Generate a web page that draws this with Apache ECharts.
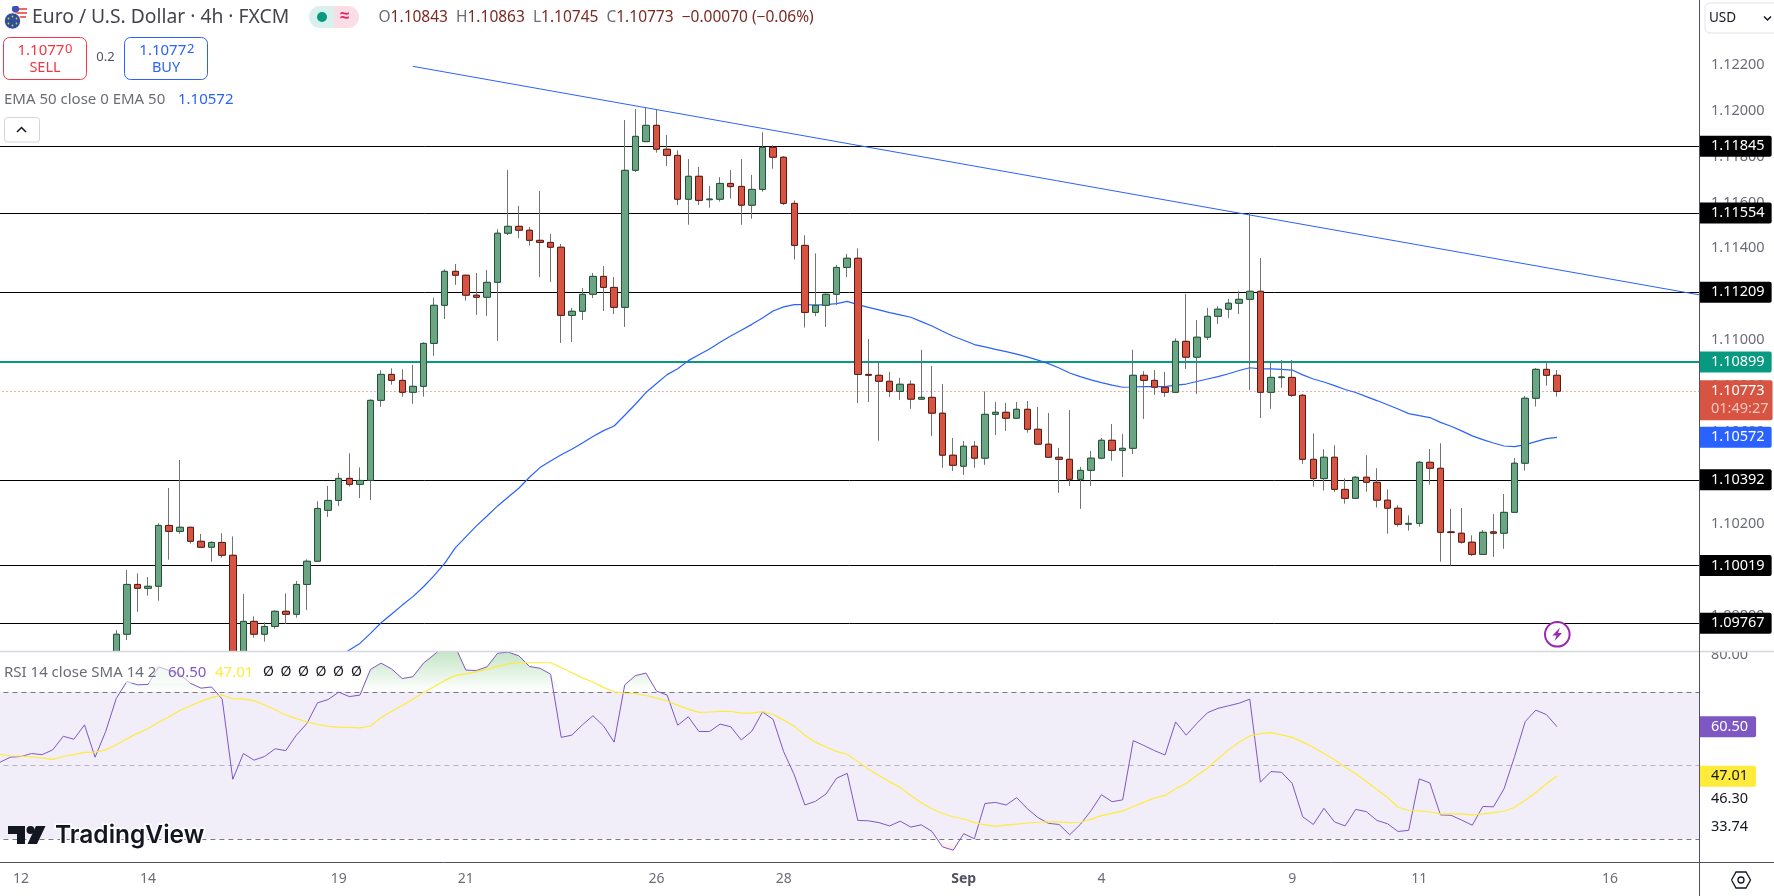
<!DOCTYPE html>
<html lang="en">
<head>
    <meta charset="UTF-8">
    <title>Euro / U.S. Dollar 4h</title>
    <style>
        html, body { margin: 0; padding: 0; background: #fff; }
        #main { width: 1774px; height: 896px; }
    </style>
</head>
<body>
<div id="main"></div>
<script src="https://cdn.jsdelivr.net/npm/echarts@6/dist/echarts.min.js"></script>
<script type="text/javascript">
    // time axis: 161 bar slots, date labels only on some of them
    var slotCount = 161;
    var tickSlots = [2, 14, 32, 44, 62, 74, 91, 104, 122, 134, 152];
    var tickLabels = ['12', '14', '19', '21', '26', '28', 'Sep', '4', '9', '11', '16'];

    // first 11 bars sit below the visible price range
    var firstCandle = 11;
    var opens = [1.09592,1.09719,1.09936,1.09919,1.09928,1.10193,1.10167,1.10185,1.10124,1.10098,1.10119,1.10063,1.09500,1.09775,1.09719,1.09753,1.09819,1.09806,1.09936,1.10037,1.10259,1.10302,1.10398,1.10372,1.10389,1.10738,1.10851,1.10825,1.10773,1.10799,1.10986,1.11152,1.11300,1.11283,1.11196,1.11187,1.11252,1.11466,1.11496,1.11479,1.11435,1.11426,1.11405,1.11108,1.11126,1.11200,1.11278,1.11230,1.11143,1.11740,1.11865,1.11936,1.11832,1.11805,1.11614,1.11714,1.11612,1.11614,1.11683,1.11670,1.11588,1.11657,1.11840,1.11797,1.11596,1.11413,1.11121,1.11152,1.11200,1.11317,1.11357,1.10851,1.10847,1.10821,1.10777,1.10808,1.10743,1.10751,1.10682,1.10499,1.10451,1.10538,1.10486,1.10677,1.10686,1.10660,1.10699,1.10612,1.10547,1.10490,1.10481,1.10394,1.10433,1.10486,1.10564,1.10520,1.10529,1.10847,1.10825,1.10795,1.10773,1.10995,1.10926,1.11013,1.11104,1.11135,1.11161,1.11178,1.11213,1.10773,1.10837,1.10838,1.10760,1.10481,1.10397,1.10490,1.10350,1.10311,1.10403,1.10381,1.10303,1.10268,1.10198,1.10202,1.10468,1.10442,1.10165,1.10159,1.10120,1.10067,1.10165,1.10159,1.10250,1.10464,1.10747,1.10873,1.10847];
    var closes = [1.09719,1.09936,1.09919,1.09928,1.10193,1.10167,1.10185,1.10124,1.10098,1.10119,1.10063,1.09491,1.09775,1.09719,1.09753,1.09819,1.09806,1.09936,1.10037,1.10267,1.10302,1.10398,1.10372,1.10389,1.10738,1.10851,1.10825,1.10773,1.10799,1.10986,1.11152,1.11300,1.11283,1.11196,1.11187,1.11252,1.11466,1.11496,1.11479,1.11435,1.11426,1.11405,1.11108,1.11126,1.11200,1.11278,1.11230,1.11143,1.11740,1.11888,1.11936,1.11832,1.11805,1.11614,1.11714,1.11609,1.11615,1.11683,1.11669,1.11588,1.11657,1.11840,1.11797,1.11596,1.11413,1.11121,1.11152,1.11200,1.11317,1.11357,1.10851,1.10847,1.10821,1.10777,1.10808,1.10743,1.10751,1.10682,1.10499,1.10455,1.10538,1.10486,1.10677,1.10686,1.10660,1.10699,1.10612,1.10547,1.10490,1.10481,1.10394,1.10433,1.10486,1.10564,1.10520,1.10529,1.10847,1.10825,1.10795,1.10773,1.10995,1.10926,1.11013,1.11104,1.11135,1.11161,1.11178,1.11213,1.10773,1.10838,1.10840,1.10760,1.10481,1.10397,1.10490,1.10350,1.10311,1.10403,1.10381,1.10303,1.10268,1.10198,1.10202,1.10468,1.10442,1.10163,1.10162,1.10120,1.10067,1.10163,1.10159,1.10250,1.10464,1.10747,1.10873,1.10847,1.10777];
    var lows = [1.09570,1.09694,1.09817,1.09887,1.09865,1.10044,1.10157,1.10114,1.10096,1.10035,1.10053,1.09447,1.09470,1.09704,1.09687,1.09743,1.09764,1.09791,1.09825,1.10035,1.10230,1.10278,1.10362,1.10312,1.10304,1.10710,1.10806,1.10754,1.10723,1.10754,1.10932,1.11092,1.11241,1.11172,1.11110,1.11105,1.10997,1.11458,1.11445,1.11412,1.11275,1.11254,1.10988,1.10992,1.11088,1.11184,1.11127,1.11114,1.11058,1.11733,1.11865,1.11817,1.11759,1.11589,1.11503,1.11589,1.11577,1.11604,1.11617,1.11503,1.11529,1.11647,1.11747,1.11589,1.11351,1.11055,1.11105,1.11058,1.11153,1.11275,1.10726,1.10731,1.10562,1.10753,1.10740,1.10701,1.10743,1.10583,1.10444,1.10430,1.10413,1.10444,1.10457,1.10587,1.10605,1.10660,1.10597,1.10547,1.10490,1.10335,1.10365,1.10265,1.10365,1.10481,1.10475,1.10404,1.10504,1.10657,1.10762,1.10753,1.10773,1.10875,1.10766,1.11001,1.11071,1.11097,1.11114,1.10783,1.10661,1.10701,1.10792,1.10753,1.10461,1.10362,1.10345,1.10339,1.10288,1.10311,1.10340,1.10271,1.10157,1.10188,1.10170,1.10188,1.10371,1.10035,1.10019,1.10114,1.10060,1.10066,1.10056,1.10091,1.10250,1.10432,1.10711,1.10802,1.10754];
    var highs = [1.09737,1.09999,1.09984,1.09968,1.10202,1.10356,1.10478,1.10185,1.10156,1.10124,1.10159,1.10145,1.09894,1.09797,1.09771,1.09823,1.09897,1.09951,1.10045,1.10298,1.10365,1.10421,1.10507,1.10446,1.10742,1.10869,1.10877,1.10873,1.10892,1.10991,1.11185,1.11309,1.11332,1.11283,1.11293,1.11306,1.11483,1.11741,1.11585,1.11493,1.11650,1.11463,1.11419,1.11140,1.11227,1.11293,1.11323,1.11275,1.11959,1.12007,1.12016,1.12003,1.11894,1.11827,1.11789,1.11755,1.11672,1.11710,1.11741,1.11789,1.11720,1.11906,1.11849,1.11802,1.11609,1.11457,1.11378,1.11204,1.11328,1.11376,1.11400,1.11005,1.10902,1.10862,1.10836,1.10825,1.10958,1.10888,1.10809,1.10574,1.10560,1.10560,1.10777,1.10731,1.10727,1.10731,1.10735,1.10709,1.10683,1.10531,1.10696,1.10448,1.10518,1.10574,1.10635,1.10592,1.10958,1.10865,1.10870,1.10862,1.11008,1.11202,1.11088,1.11141,1.11148,1.11180,1.11215,1.11557,1.11358,1.10904,1.10914,1.10914,1.10766,1.10594,1.10525,1.10542,1.10398,1.10407,1.10499,1.10442,1.10350,1.10281,1.10237,1.10474,1.10526,1.10551,1.10265,1.10269,1.10150,1.10173,1.10243,1.10330,1.10487,1.10757,1.10879,1.10908,1.10870];

    // EMA 50 starts just below the pane
    var firstEma = 32;
    var ema50 = [1.09618,1.09650,1.09679,1.09723,1.09769,1.09807,1.09846,1.09883,1.09926,1.09974,1.10028,1.10095,1.10143,1.10191,1.10234,1.10278,1.10317,1.10355,1.10403,1.10445,1.10474,1.10501,1.10525,1.10552,1.10580,1.10606,1.10626,1.10673,1.10721,1.10772,1.10811,1.10850,1.10876,1.10911,1.10937,1.10962,1.10991,1.11018,1.11043,1.11069,1.11097,1.11127,1.11145,1.11155,1.11155,1.11153,1.11155,1.11159,1.11169,1.11155,1.11143,1.11132,1.11120,1.11110,1.11100,1.11081,1.11062,1.11039,1.11017,1.11000,1.10981,1.10971,1.10960,1.10950,1.10939,1.10927,1.10913,1.10898,1.10879,1.10857,1.10841,1.10827,1.10815,1.10804,1.10795,1.10796,1.10798,1.10798,1.10798,1.10804,1.10809,1.10820,1.10831,1.10841,1.10854,1.10868,1.10880,1.10875,1.10875,1.10873,1.10870,1.10849,1.10831,1.10818,1.10802,1.10785,1.10772,1.10754,1.10737,1.10719,1.10700,1.10680,1.10671,1.10663,1.10642,1.10625,1.10605,1.10583,1.10567,1.10552,1.10539,1.10536,1.10545,1.10558,1.10571,1.10577];

    var rsi = [50.8,52.2,52.4,53.2,52.9,54.2,57.9,57.1,61.0,52.2,59.2,68.2,72.8,71.9,72.0,76.8,75.8,74.8,72.3,71.0,71.3,68.0,46.2,53.2,51.4,52.4,54.5,54.0,58.2,61.4,67.0,67.9,69.9,68.7,69.1,76.1,77.8,76.2,73.6,74.1,77.8,80.1,82.6,82.3,75.9,75.8,76.8,80.5,80.8,79.8,76.9,76.4,74.8,57.6,58.2,61.0,63.5,60.7,56.3,71.9,74.4,75.1,70.2,69.1,60.9,63.2,59.2,59.2,61.2,60.5,56.9,59.3,64.5,62.5,53.7,47.4,39.2,40.2,42.2,46.5,47.8,35.0,34.9,34.4,33.5,34.8,33.2,33.8,32.0,27.8,26.9,31.4,30.0,39.6,39.9,39.2,41.2,38.2,35.8,34.2,33.9,31.1,33.9,37.6,42.0,40.1,40.6,56.7,55.4,54.0,52.8,61.8,58.2,61.4,64.3,65.5,66.2,66.9,68.0,45.4,48.3,48.1,45.1,36.0,33.9,38.3,34.6,33.5,38.0,37.4,35.0,34.1,32.0,32.3,46.3,45.2,36.5,36.4,35.1,33.7,38.8,38.7,43.6,52.4,61.9,65.0,63.8,60.5];
    var rsiSma = [53.0,52.6,52.5,52.3,52.0,51.6,52.4,52.9,53.5,53.6,54.2,55.6,57.2,58.7,60.0,61.7,63.2,64.9,66.2,67.4,68.5,69.1,68.1,68.1,67.6,66.4,65.1,63.7,62.7,61.8,61.1,60.6,60.4,60.3,60.2,60.7,63.0,64.7,66.3,68.0,69.8,71.4,73.1,74.4,74.9,75.5,76.1,76.9,77.6,77.9,77.9,77.9,77.9,76.6,75.2,73.8,72.6,71.2,70.0,69.6,69.5,69.0,68.3,67.5,66.3,65.3,64.4,64.5,64.7,64.7,64.2,64.2,64.6,63.9,62.3,60.6,58.2,56.3,55.0,53.8,53.0,51.0,49.0,47.2,45.5,44.0,41.8,39.8,38.2,36.9,36.0,35.4,34.4,33.8,33.4,33.7,34.0,34.3,34.5,34.6,34.6,34.4,34.5,35.3,36.3,36.9,37.6,38.8,39.9,41.1,41.8,43.6,45.1,47.2,49.2,51.8,54.2,56.3,58.0,58.6,58.9,58.3,57.6,56.3,54.9,53.2,51.5,49.5,47.7,45.6,43.4,41.3,38.6,37.7,37.6,37.3,36.8,36.8,36.7,36.5,36.8,37.1,37.5,38.6,40.5,42.6,45.0,47.1];

    var priceTicks = [1.122, 1.12, 1.118, 1.116, 1.114, 1.11, 1.108, 1.106, 1.102, 1.098];
    var blackLevels = [1.11845, 1.11554, 1.11209, 1.10392, 1.10019, 1.09767];
    var blackLabels = ['1.11845', '1.11554', '1.11209', '1.10392', '1.10019', '1.09767'];
    var greenLevel = 1.10905, greenLabel = '1.10899';
    var lastLevel = 1.10778, lastLabel = '1.10773', countdown = '01:49:27';
    var emaLevel = 1.10577, emaLabel = '1.10572';
    var trendX = [39, 160.5];
    var trendY = [1.12193, 1.11197];

    var rsiTicks = [80];
    var rsiBands = [70, 50, 30];

    var fontName = '"Noto Sans", sans-serif';
    var grey = '#6a6d78';
    var upFill = '#6ba583', upEdge = '#225437';
    var downFill = '#d75442', downEdge = '#5b1a13';

    var categories = [];
    for (var i = 0; i < slotCount; i++) categories.push('');
    tickSlots.forEach(function (s, k) { categories[s] = tickLabels[k]; });

    function padded(n, rows, empty) {
        var out = [];
        for (var j = 0; j < n; j++) out.push(empty);
        return out.concat(rows);
    }
    var noBar = ['-', '-', '-', '-'];
    var wickRows = padded(firstCandle, opens.map(function (o, k) {
        return [o, closes[k], lows[k], highs[k]];
    }), noBar);
    var bodyRows = padded(firstCandle, opens.map(function (o, k) {
        return [o, closes[k], Math.min(o, closes[k]), Math.max(o, closes[k])];
    }), noBar);

    // price tag at the right edge, hung on a horizontal line
    function tagLine(value, text, color, bg, width, type, extra) {
        var item = {
            yAxis: value,
            lineStyle: { color: color, width: width, type: type },
            label: {
                show: true, position: 'end', distance: 0,
                formatter: function () { return text; },
                color: '#fff', backgroundColor: bg,
                padding: [3, 7, 3, 11], borderRadius: [0, 2, 2, 0],
                fontFamily: fontName, fontSize: 14.5, lineHeight: 15
            }
        };
        if (extra) Object.assign(item.label, extra);
        return item;
    }

    var priceLines = blackLevels.map(function (v, k) {
        return tagLine(v, blackLabels[k], '#000', '#000', 1, 'solid');
    });
    priceLines.push(tagLine(greenLevel, greenLabel, '#089981', '#089981', 2, 'solid'));
    priceLines.push(tagLine(emaLevel, emaLabel, 'transparent', '#2962ff', 0, 'solid'));
    priceLines.push(tagLine(lastLevel, '', '#e0564a', '#d75442', 1, [1, 3], {
        formatter: function () { return lastLabel + '\n{t|' + countdown + '}'; },
        rich: { t: { color: '#f5c6bf', fontFamily: fontName, fontSize: 14.5, lineHeight: 18 } },
        lineHeight: 18, padding: [2, 4, 2, 11], offset: [0, 9]
    }));

    var rsiLines = rsiBands.map(function (v) {
        return {
            yAxis: v,
            lineStyle: { color: v === 50 ? 'rgba(120,123,134,0.5)' : '#787b86', width: 1, type: [5, 4] },
            label: { show: false }
        };
    });
    function plainTag(value, text, color, bg, extra) {
        var item = {
            yAxis: value, lineStyle: { color: 'transparent', width: 0 },
            label: {
                show: true, position: 'end', distance: 0,
                formatter: function () { return text; },
                color: color, backgroundColor: bg,
                padding: [3, 8, 3, 11], borderRadius: [0, 2, 2, 0],
                fontFamily: fontName, fontSize: 14.5, lineHeight: 15
            }
        };
        if (extra) Object.assign(item.label, extra);
        return item;
    }
    rsiLines.push(plainTag(60.5, '60.50', '#fff', '#7e57c2'));
    rsiLines.push(plainTag(47.01, '47.01', '#131722', '#ffeb3b'));
    rsiLines.push(plainTag(46.3, '46.30', '#131722', 'transparent', { offset: [0, 20] }));
    rsiLines.push(plainTag(33.74, '33.74', '#131722', 'transparent', { offset: [0, 2] }));

    // drawing helpers for the TradingView chrome around the chart
    function txt(x, y, text, size, color, extra) {
        var style = {
            x: x, y: y, text: text, fontSize: size, fill: color,
            fontFamily: fontName, verticalAlign: 'middle', align: 'left'
        };
        if (extra) Object.assign(style, extra);
        return { type: 'text', z: 100, silent: true, style: style };
    }
    function box(x, y, w, h, r, fill, stroke) {
        return {
            type: 'rect', z: 100, silent: true,
            shape: { x: x, y: y, width: w, height: h, r: r },
            style: { fill: fill, stroke: stroke || null, lineWidth: 1 }
        };
    }
    function line(x1, y1, x2, y2, color, w) {
        return {
            type: 'line', z: 100, silent: true,
            shape: { x1: x1, y1: y1, x2: x2, y2: y2 },
            style: { stroke: color, lineWidth: w || 1 }
        };
    }
    function circle(cx, cy, r, fill, stroke, w) {
        return {
            type: 'circle', z: 100, silent: true,
            shape: { cx: cx, cy: cy, r: r },
            style: { fill: fill, stroke: stroke || null, lineWidth: w || 1 }
        };
    }
    function poly(points, fill, stroke, w) {
        return {
            type: fill ? 'polygon' : 'polyline', z: 100, silent: true,
            shape: { points: points },
            style: { fill: fill || null, stroke: stroke || null, lineWidth: w || 1 }
        };
    }

    // RSI pane backing: hides candles that run past the bottom of the price pane
    var rsiBacking = box(0, 652, 1700, 211, 0, '#fff');
    rsiBacking.z = 6;

    var nullMark = '\u00d8';
    var chrome = [
        rsiBacking,
        // flags
        circle(19.5, 13, 7.5, '#fff'),
        line(14, 9, 27, 9, '#e53935', 1.5), line(13, 13, 27, 13, '#e53935', 1.5), line(14, 17, 26, 17, '#e53935', 1.5),
        box(12, 6, 7, 6, 2, '#3f51b5'),
        circle(12.5, 21, 8.2, '#2a4f9e', '#fff', 1),
        circle(12.5, 16.5, 0.9, '#f5c518'), circle(8.5, 18.5, 0.9, '#f5c518'), circle(16.5, 18.5, 0.9, '#f5c518'),
        circle(8.5, 23.5, 0.9, '#f5c518'), circle(16.5, 23.5, 0.9, '#f5c518'), circle(12.5, 25.5, 0.9, '#f5c518'),
        // header
        txt(32, 18, 'Euro / U.S. Dollar \u00b7 4h \u00b7 FXCM', 19.3, '#43454e'),
        box(334, 6, 25, 22, [0, 11, 11, 0], '#fbdde6'),
        box(309, 6, 25, 22, [11, 0, 0, 11], '#d9f0ec'),
        circle(322, 17, 5, '#089981'),
        txt(340, 16.5, '\u2248', 17, '#e91e63', { fontWeight: 'bold' }),
        txt(378.5, 18, '{g|O}{v|1.10843}  {g|H}{v|1.10863}  {g|L}{v|1.10745}  {g|C}{v|1.10773}  {v|\u22120.00070 (\u22120.06%)}', 15.5, '#5b1a13', {
            rich: {
                g: { fontSize: 15.5, fontFamily: fontName, fill: '#6a6d78', color: '#6a6d78' },
                v: { fontSize: 15.5, fontFamily: fontName, fill: '#7a2a22', color: '#7a2a22' }
            }
        }),
        // sell / buy
        box(3.5, 37.5, 83, 42, 6, '#fff', '#f23645'),
        txt(17.5, 51, '1.1077', 15, '#f23645'),
        txt(65, 49, '0', 13, '#f23645'),
        txt(45, 68, 'SELL', 14.5, '#f23645', { align: 'center' }),
        txt(105.5, 57.5, '0.2', 13, '#50535e', { align: 'center' }),
        box(124.5, 37.5, 83, 42, 6, '#fff', '#2962ff'),
        txt(139.3, 51, '1.1077', 15, '#2962ff'),
        txt(187, 49, '2', 13, '#2962ff'),
        txt(166, 68, 'BUY', 14.5, '#2962ff', { align: 'center' }),
        // indicator legend
        txt(4, 99.5, 'EMA 50 close 0 EMA 50', 15, grey),
        txt(178, 99.5, emaLabel, 15, '#2962ff'),
        box(4.5, 117.5, 35, 24.5, 3, '#fff', '#d1d4dc'),
        poly([[17, 132], [21.5, 127.5], [26, 132]], null, '#131722', 1.5),
        // currency box and corner icon
        box(1705, 3, 80, 30, 5, '#fff', '#e0e3eb'),
        txt(1709, 18, 'USD', 13.5, '#131722'),
        poly([[1764, 16.5], [1767.5, 20], [1771, 16.5]], null, '#131722', 1.5),
        // top of the 80.00 tick is cut by the pane edge
        box(1701, 640, 73, 11, 0, '#fff'),
        // pane dividers
        line(0, 651.5, 1774, 651.5, '#d6d7e0', 1.5),
        line(1699.5, 0, 1699.5, 896, '#50535e', 1),
        line(0, 862.5, 1774, 862.5, '#50535e', 1),
        // alert badge
        circle(1557.3, 634.3, 12.3, '#fff', '#9c27b0', 2),
        poly([[1560, 627.5], [1552.5, 635.5], [1556.5, 635.5], [1554.5, 641], [1562, 633], [1558, 633]], '#9c27b0'),
        // RSI legend
        box(3, 663, 356, 20, 0, 'rgba(255,255,255,0.55)'),
        txt(4, 672.5, 'RSI 14 close SMA 14 2', 15, grey),
        txt(168, 672.5, '60.50', 15, '#7e57c2'),
        txt(215, 672.5, '47.01', 15, '#ffeb3b'),
        txt(263, 672.5, nullMark, 14, '#131722'), txt(280.5, 672.5, nullMark, 14, '#131722'), txt(298, 672.5, nullMark, 14, '#131722'),
        txt(315.5, 672.5, nullMark, 14, '#131722'), txt(333, 672.5, nullMark, 14, '#131722'), txt(351, 672.5, nullMark, 14, '#131722'),
        // logo
        poly([[8, 826], [25, 826], [25, 844], [17, 844], [17, 834], [8, 834]], '#131722'),
        circle(30.5, 830, 4, '#131722'),
        poly([[45.5, 826], [37, 844], [27.5, 844], [36, 826]], '#131722'),
        txt(55, 836, 'TradingView', 24.5, '#131722', {
            fontFamily: 'Inter, sans-serif', fontWeight: 600, stroke: '#fff', lineWidth: 3
        }),
        // settings icon
        poly([[1731.5, 880], [1736, 872], [1746, 872], [1750.5, 880], [1746, 888], [1736, 888], [1731.5, 880]], null, '#131722', 1.3),
        circle(1741, 880, 3, null, '#131722', 1.3)
    ];

    var myChart = echarts.init(document.getElementById('main'));

    var option = {
        animation: false,
        backgroundColor: '#fff',
        textStyle: { fontFamily: fontName },
        grid: [
            { left: -5.56, top: 0, width: 1705.56, height: 651, outerBoundsMode: 'none' },
            { left: -5.56, top: 652, width: 1705.56, height: 210, outerBoundsMode: 'none' }
        ],
        xAxis: [
            { type: 'category', gridIndex: 0, data: categories, show: false },
            {
                type: 'category', gridIndex: 1, data: categories,
                axisLine: { show: false }, axisTick: { show: false }, splitLine: { show: false },
                axisLabel: {
                    interval: 0, margin: 10, color: grey, fontSize: 14, fontFamily: fontName,
                    formatter: function (v) { return v === 'Sep' ? '{b|Sep}' : v; },
                    rich: { b: { fontWeight: 'bold', color: '#50535e', fontSize: 14, fontFamily: fontName } }
                }
            },
            // continuous twin of the bar axis so the trend line can run to the pane edge
            { type: 'value', gridIndex: 0, show: false, min: -0.5, max: slotCount - 0.5 }
        ],
        yAxis: [
            {
                type: 'value', gridIndex: 0, position: 'right', scale: true,
                min: 1.09646, max: 1.12482,
                axisLine: { show: false }, axisTick: { show: false }, splitLine: { show: false },
                axisLabel: {
                    customValues: priceTicks, margin: 11, align: 'left', color: grey,
                    fontSize: 14.5, fontFamily: fontName,
                    formatter: function (v) { return v.toFixed(5); }
                }
            },
            {
                type: 'value', gridIndex: 1, position: 'right', scale: true,
                min: 23.69, max: 80.83,
                axisLine: { show: false }, axisTick: { show: false }, splitLine: { show: false },
                axisLabel: {
                    customValues: rsiTicks, margin: 11, align: 'left', color: grey,
                    fontSize: 14.5, fontFamily: fontName,
                    formatter: function (v) { return v.toFixed(2); }
                }
            }
        ],
        series: [
            {
                name: 'levels', type: 'line', xAxisIndex: 2, yAxisIndex: 0, z: 2,
                data: trendX.map(function (x, k) { return [x, trendY[k]]; }),
                symbol: 'none', silent: true,
                lineStyle: { color: '#2962ff', width: 1 },
                markLine: { silent: true, symbol: 'none', z: 1, precision: 5, animation: false, data: priceLines }
            },
            {
                name: 'EMA 50', type: 'line', xAxisIndex: 0, yAxisIndex: 0, z: 2,
                data: padded(firstEma, ema50, '-'), symbol: 'none', silent: true,
                lineStyle: { color: '#2962ff', width: 1.2 }
            },
            {
                name: 'wicks', type: 'candlestick', xAxisIndex: 0, yAxisIndex: 0, z: 4, silent: true,
                data: wickRows, barWidth: 5,
                itemStyle: {
                    color: '#737375', color0: '#737375', borderColor: '#737375', borderColor0: '#737375',
                    borderColorDoji: '#737375', borderWidth: 1
                }
            },
            {
                name: 'bodies', type: 'candlestick', xAxisIndex: 0, yAxisIndex: 0, z: 5, silent: true,
                data: bodyRows, barWidth: 7,
                itemStyle: {
                    color: upFill, color0: downFill, borderColor: upEdge, borderColor0: downEdge,
                    borderColorDoji: downEdge, borderWidth: 1
                }
            },
            {
                name: 'over 70', type: 'line', xAxisIndex: 1, yAxisIndex: 1, z: 7, silent: true,
                data: rsi.map(function (v) { return Math.max(v, 70); }),
                symbol: 'none', lineStyle: { width: 0 },
                areaStyle: {
                    origin: 70, opacity: 1,
                    color: {
                        type: 'linear', x: 0, y: 652, x2: 0, y2: 692, global: true,
                        colorStops: [{ offset: 0, color: 'rgba(76,175,80,0.32)' }, { offset: 1, color: 'rgba(76,175,80,0)' }]
                    }
                }
            },
            {
                name: 'under 30', type: 'line', xAxisIndex: 1, yAxisIndex: 1, z: 7, silent: true,
                data: rsi.map(function (v) { return Math.min(v, 30); }),
                symbol: 'none', lineStyle: { width: 0 },
                areaStyle: {
                    origin: 30, opacity: 1,
                    color: {
                        type: 'linear', x: 0, y: 839, x2: 0, y2: 862, global: true,
                        colorStops: [{ offset: 0, color: 'rgba(255,82,82,0)' }, { offset: 1, color: 'rgba(255,82,82,0.3)' }]
                    }
                }
            },
            {
                name: 'RSI', type: 'line', xAxisIndex: 1, yAxisIndex: 1, z: 9, silent: true,
                data: rsi, symbol: 'none',
                lineStyle: { color: '#7e57c2', width: 1 },
                markArea: {
                    silent: true, z: 7,
                    itemStyle: { color: 'rgba(126,87,194,0.1)' },
                    data: [[{ yAxis: rsiBands[0] }, { yAxis: rsiBands[2] }]]
                },
                markLine: { silent: true, symbol: 'none', z: 8, precision: 2, animation: false, data: rsiLines }
            },
            {
                name: 'RSI SMA', type: 'line', xAxisIndex: 1, yAxisIndex: 1, z: 9, silent: true,
                data: rsiSma, symbol: 'none',
                lineStyle: { color: '#ffeb3b', width: 1.2 }
            }
        ],
        graphic: { elements: chrome }
    };

    myChart.setOption(option);
</script>
</body>
</html>
